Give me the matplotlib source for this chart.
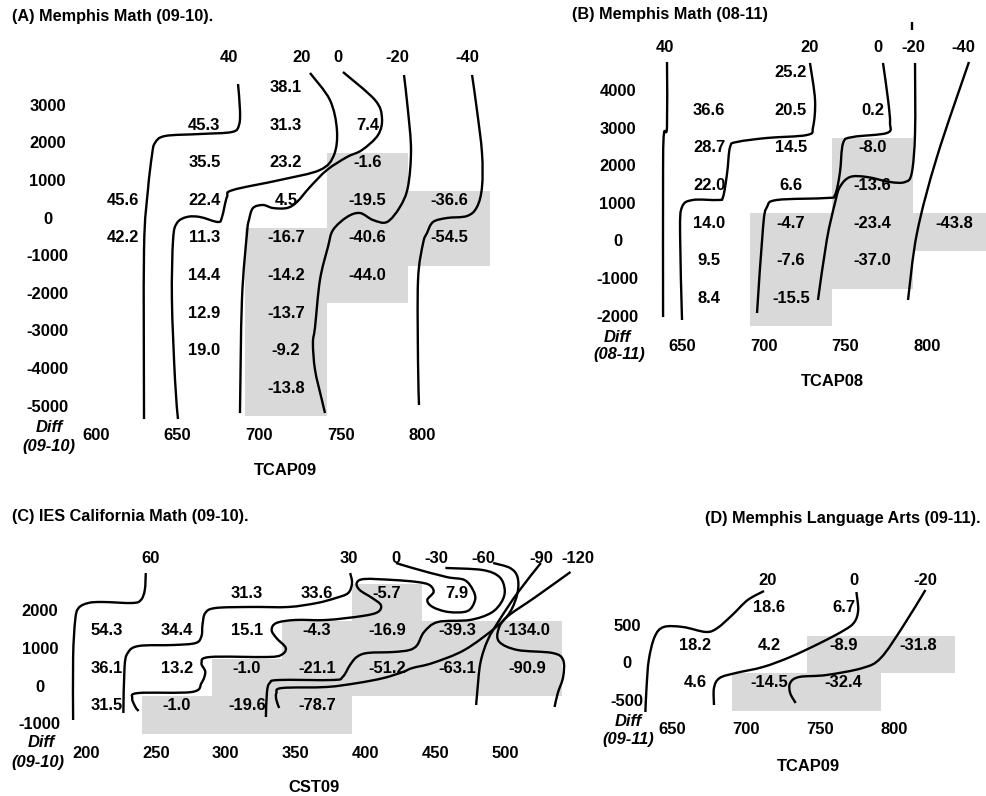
import numpy as np
import matplotlib
matplotlib.use("Agg")
import matplotlib.pyplot as plt
from matplotlib.path import Path
from matplotlib.patches import PathPatch, Rectangle

W, H = 986, 796
FONT = "Liberation Sans"
FS = 11.9
FS_TITLE = 11.7
GRAY = "#d9d9d9"
LW = 1.7
nan = np.nan

# ---------------- Panel A : Memphis Math (09-10) ----------------
A_cols = [625, 675, 725, 775, 825]
A_rows = [3500, 2500, 1500, 500, -500, -1500, -2500, -3500, -4500]
A_vals = [
    [nan, nan, 38.1, nan, nan],
    [nan, 45.3, 31.3, 7.4, nan],
    [nan, 35.5, 23.2, -1.6, nan],
    [45.6, 22.4, 4.5, -19.5, -36.6],
    [42.2, 11.3, -16.7, -40.6, -54.5],
    [nan, 14.4, -14.2, -44.0, nan],
    [nan, 12.9, -13.7, nan, nan],
    [nan, 19.0, -9.2, nan, nan],
    [nan, nan, -13.8, nan, nan],
]
A_yticks = [3000, 2000, 1000, 0, -1000, -2000, -3000, -4000, -5000]
A_xticks = [600, 650, 700, 750, 800]
A_levels = ["40", "20", "0", "-20", "-40"]
A_level_x = [690, 734.8, 756.9, 793, 835.9]
A_curve_40 = [(695.6, 3835), (696.8, 3144), (696.2, 2744), (691.9, 2559), (672.3, 2505),
              (650.9, 2452), (644.7, 2266), (642.9, 1947), (640.4, 1016), (638, -580), (638, -5076)]
A_curve_20 = [(739.7, 4128), (751.9, 3410), (756.2, 2612), (754.4, 1947), (745.8, 1548),
              (721.3, 1282), (692.5, 1016), (688.8, 830), (685.8, 298), (683.3, 165),
              (672.3, 298), (664.3, 298), (658.2, 138), (655.8, -314), (655.1, -1910),
              (657, -4038), (658.8, -5076)]
A_curve_0 = [(759.9, 4155), (779.5, 3410), (783.8, 2931), (781.4, 2479), (771.6, 2080),
             (762.4, 1894), (750.1, 1548), (739.7, 1096), (731.7, 697), (725.6, 537),
             (717, 537), (710.9, 617), (704.8, 537), (702.3, 218), (701.1, -128),
             (698, -1910), (696.8, -4916)]
A_curve_m20 = [(797.3, 4075), (799.7, 3144), (801.6, 2080), (799.7, 1096), (794.8, 564),
               (786.9, 165), (778.3, 218), (770.3, 404), (762.4, 298), (753.8, -48),
               (750.7, -500), (745.8, -1378), (742.8, -2628), (741.5, -3054),
               (742.8, -3772), (747, -4570), (748.9, -4916)]
A_curve_m40 = [(839, 4075), (842, 3144), (845.1, 2000), (845.1, 1096), (842, 564),
               (835.9, 324), (823.6, 271), (815.1, 165), (811.4, -128), (809, -400),
               (805.9, -1378), (805.9, -3586), (806.5, -4703)]

# ---------------- Panel B : Memphis Math (08-11) ----------------
B_cols = [675, 725, 775, 825]
B_rows = [4500, 3500, 2500, 1500, 500, -500, -1500]
B_vals = [
    [nan, 25.2, nan, nan],
    [36.6, 20.5, 0.2, nan],
    [28.7, 14.5, -8.0, nan],
    [22.0, 6.6, -13.6, nan],
    [14.0, -4.7, -23.4, -43.8],
    [9.5, -7.6, -37.0, nan],
    [8.4, -15.5, nan, nan],
]
B_yticks = [4000, 3000, 2000, 1000, 0, -1000, -2000]
B_xticks = [650, 700, 750, 800]
B_levels = ["40", "20", "0", "-20", "-40"]
B_level_x = [648, 736.7, 778.3, 799.8, 830.4]
B_curve_40 = [(649.2, 5027), (649.2, 3298), (647.4, 3139), (646.8, 2234), (646.8, -1756)]
B_curve_20 = [(736.7, 5001), (739.8, 4017), (738.6, 3298), (734.9, 3086), (710.4, 3006),
              (692, 2899), (687.8, 2766), (686, 2075), (683.5, 1436), (680.4, 1357),
              (665, 1357), (658.4, 1170), (657.2, 479), (658.4, -1835)]
B_curve_0 = [(781.4, 5001), (784.5, 4017), (785.7, 3405), (783.8, 3139), (763, 3032),
             (757, 2873), (755, 2075), (752, 1490), (747, 1410), (716.5, 1357),
             (710.4, 1170), (708, 638), (704.3, -1649)]
B_curve_m20 = [(801, 5001), (801, 3139), (799, 2075), (794.9, 1835), (785.7, 1835),
               (771.6, 1968), (761.2, 1968), (755, 1702), (752, 1277), (747, 293),
               (741.6, -1303)]
B_curve_m40 = [(834, 5027), (814.4, 2500), (802.2, 479), (796.7, -1303)]
B_stub = [(799, 6091), (799, 5879)]

# ---------------- Panel C : IES California Math (09-10) ----------------
C_cols = [225, 275, 325, 375, 425, 475, 525]
C_rows = [2500, 1500, 500, -500]
C_vals = [
    [nan, nan, 31.3, 33.6, -5.7, 7.9, nan],
    [54.3, 34.4, 15.1, -4.3, -16.9, -39.3, -134.0],
    [36.1, 13.2, -1.0, -21.1, -51.2, -63.1, -90.9],
    [31.5, -1.0, -19.6, -78.7, nan, nan, nan],
]
C_yticks = [2000, 1000, 0, -1000]
C_xticks = [200, 250, 300, 350, 400, 450, 500]
C_levels = ["60", "30", "0", "-30", "-60", "-90", "-120"]
C_level_x = [256, 398, 431.5, 459.9, 493.9, 534.9, 561]
C_curve_60 = [(252.7, 3280), (252, 2827), (249.2, 2560), (243, 2480), (221.9, 2507),
              (211.7, 2480), (204.7, 2347), (202.3, 2027), (200.8, 1040), (200.8, -640)]
C_curve_30 = [(398.7, 3280), (400, 3014), (397.3, 2747), (388.5, 2614), (375, 2480),
              (354.7, 2374), (328, 2374), (302.7, 2347), (295.2, 2214), (293.2, 1894),
              (292.5, 1600), (288.4, 1414), (272.6, 1360), (247.7, 1334), (239.8, 1147),
              (237.5, 747), (236.7, -453)]
C_curve_0 = [(431.5, 3547), (443.2, 3414), (467.4, 3174), (480.3, 3094), (486.4, 2827),
             (487.9, 2560), (482.6, 2267), (469, 2240), (457.6, 2374), (453.8, 2560),
             (458.3, 2774), (455.3, 2960), (446.6, 3040), (429.5, 3094), (408.9, 3120),
             (403.4, 3014), (405.5, 2827), (414.4, 2614), (420.6, 2427), (418.5, 2240),
             (407.5, 2134), (381.8, 2027), (359.5, 2027), (346, 1947), (342.6, 1760),
             (346, 1547), (352.7, 1280), (349.3, 1093), (339.2, 1040), (298.6, 1040),
             (292.5, 880), (295.2, 640), (292.5, 347), (285.6, 107), (247.6, 80),
             (243, -53), (245.3, -293), (247.6, -400)]
C_curve_m30 = [(466.7, 3414), (493.2, 3360), (505.3, 3174), (509.1, 2827), (506.8, 2507),
               (499.2, 2214), (484.1, 2027), (461.4, 1974), (451.5, 1707), (446.6, 1360),
               (441.1, 1227), (429.5, 1173), (411, 1147), (403.4, 1040), (398.6, 827),
               (393.3, 507), (386.5, 427), (348, 427), (341.2, 347), (339.2, 80),
               (338.5, -560)]
C_curve_m60 = [(500.8, 3547), (512.9, 3414), (518.2, 3174), (518.2, 2747), (512.9, 2240),
               (503, 1840), (480.3, 1227), (457.6, 880), (443.2, 747), (436.3, 640),
               (422.6, 480), (404.1, 347), (381.8, 240), (350, 213), (346, 80),
               (346, -107), (348, -320)]
C_curve_m90 = [(534.9, 3547), (518.2, 2747), (505.3, 2027), (497, 1494), (491.7, 880),
               (489.4, 80), (488.7, -240)]
C_curve_m120 = [(556.1, 3307), (531.1, 2640), (510.6, 2107), (504.5, 1760), (505.3, 1440),
                (518.2, 1227), (543.2, 1147), (550.8, 960), (550.8, 507), (547, 80),
                (544.7, -293)]

# ---------------- Panel D : Memphis Language Arts (09-11) ----------------
D_cols = [675, 725, 775, 825]
D_rows = [750, 250, -250]
D_vals = [
    [nan, 18.6, 6.7, nan],
    [18.2, 4.2, -8.9, -31.8],
    [4.6, -14.5, -32.4, nan],
]
D_yticks = [500, 0, -500]
D_xticks = [650, 700, 750, 800]
D_levels = ["20", "0", "-20"]
D_level_x = [723.8, 781.7, 830.1]
D_curve_20 = [(721.4, 1093), (710.4, 973), (700, 773), (690, 600), (682.3, 547),
              (666.9, 613), (653.8, 613), (647.7, 480), (643.8, 173), (642.3, -187),
              (641.5, -520)]
D_curve_0 = [(783.6, 1080), (784.8, 840), (782.3, 680), (775.6, 573), (759.2, 400),
             (739, 213), (720.7, 80), (702.4, 0), (691.5, -67), (687.7, -200),
             (687.7, -427)]
D_curve_m20 = [(830.1, 1107), (814.7, 613), (800, 200), (787.8, 67), (763.4, -27),
               (745.1, -53), (739, -133), (739, -267), (742.7, -400)]


# ---------------- helpers ----------------
fig = plt.figure(figsize=(W / 100, H / 100), dpi=100)
fig.patch.set_facecolor("white")


def make_axes(box, x0, px0, sx, y0, py0, sy):
    L, R, T, B = box
    ax = fig.add_axes([L / W, 1 - B / H, (R - L) / W, (B - T) / H])
    ax.set_xlim(x0 + (L - px0) / sx, x0 + (R - px0) / sx)
    ax.set_ylim(y0 - (B - py0) / sy, y0 + (py0 - T) / sy)
    ax.set_axis_off()
    return ax


def txt(ax, x, y, s, **kw):
    kw.setdefault("ha", "center")
    kw.setdefault("va", "center")
    kw.setdefault("fontsize", FS)
    kw.setdefault("fontweight", "bold")
    ax.text(x, y, s, family=FONT, clip_on=False, **kw)


def smooth(ax, pts):
    P = np.asarray(pts, float)
    P = np.vstack([P[:1], P, P[-1:]])
    verts = [P[1]]
    codes = [Path.MOVETO]
    for i in range(1, len(P) - 2):
        p0, p1, p2, p3 = P[i - 1], P[i], P[i + 1], P[i + 2]
        verts += [p1 + (p2 - p0) / 6, p2 - (p3 - p1) / 6, p2]
        codes += [Path.CURVE4] * 3
    ax.add_patch(PathPatch(Path(verts, codes), fill=False, lw=LW, ec="black",
                           clip_on=False, capstyle="butt", joinstyle="round"))


def grid(ax, cols, rows, vals, cw, rh):
    off = 0.24 * rh
    for r, yc in enumerate(rows):
        for c, xc in enumerate(cols):
            v = vals[r][c]
            if np.isnan(v):
                continue
            if v < 0:
                ax.add_patch(Rectangle((xc - cw / 2, yc - rh / 2), cw, rh,
                                       fc=GRAY, ec="none", zorder=0))
            txt(ax, xc, yc + off, f"{v:.1f}", zorder=3)


def ticks(ax, yticks, ytx, xticks, xty, rh):
    off = 0.24 * rh
    for t in yticks:
        txt(ax, ytx, t + off, f"{t}")
    for t in xticks:
        txt(ax, t, xty, f"{t}", ha="left")


def levels(ax, labels, xs, y):
    for s, x in zip(labels, xs):
        txt(ax, x, y, s)


# ---------------- Panel A ----------------
axA = make_axes((0, 493, 30, 490), 600, 82, 81.6 / 50, 2000, 153, 37.6 / 1000)
grid(axA, A_cols, A_rows, A_vals, 50, 1000)
ticks(axA, A_yticks, 579, A_xticks, -5501, 1000)
txt(axA, 580, -5288, "Diff", style="italic")
txt(axA, 580, -5794, "(09-10)", style="italic")
txt(axA, 724.4, -6432, "TCAP09")
levels(axA, A_levels, A_level_x, 4527)
for cv in [A_curve_40, A_curve_20, A_curve_0, A_curve_m20, A_curve_m40]:
    smooth(axA, cv)

# ---------------- Panel B ----------------
axB = make_axes((493, 986, 10, 400), 700, 750, 81.7 / 50, 0, 251, 37.6 / 1000)
grid(axB, B_cols, B_rows, B_vals, 50, 1000)
ticks(axB, B_yticks, 619, B_xticks, -2527, 1000)
txt(axB, 619, -2288, "Diff", style="italic")
txt(axB, 620, -2740, "(08-11)", style="italic")
txt(axB, 750.2, -3458, "TCAP08")
levels(axB, B_levels, B_level_x, 5400)
for cv in [B_curve_40, B_curve_20, B_curve_0, B_curve_m20, B_curve_m40]:
    smooth(axB, cv)
bx, by = zip(*B_stub)
axB.plot(bx, by, color="black", lw=LW, clip_on=False, solid_capstyle="butt")

# ---------------- Panel C ----------------
axC = make_axes((0, 600, 530, 796), 200, 72, 70 / 50, 0, 696, 37.5 / 1000)
grid(axC, C_cols, C_rows, C_vals, 50, 1000)
ticks(axC, C_yticks, 177, C_xticks, -1520, 1000)
txt(axC, 178, -1227, "Diff", style="italic")
txt(axC, 176, -1760, "(09-10)", style="italic")
txt(axC, 373, -2427, "CST09")
levels(axC, C_levels, C_level_x, 3654)
for cv in [C_curve_60, C_curve_30, C_curve_0, C_curve_m30, C_curve_m60,
           C_curve_m90, C_curve_m120]:
    smooth(axC, cv)

# ---------------- Panel D ----------------
axD = make_axes((600, 986, 530, 796), 650, 658, 74.25 / 50, 0, 673, 37.5 / 500)
grid(axD, D_cols, D_rows, D_vals, 50, 500)
ticks(axD, D_yticks, 629, D_xticks, -760, 500)
txt(axD, 630, -653, "Diff", style="italic")
txt(axD, 630, -893, "(09-11)", style="italic")
txt(axD, 751.2, -1253, "TCAP09")
levels(axD, D_levels, D_level_x, 1227)
for cv in [D_curve_20, D_curve_0, D_curve_m20]:
    smooth(axD, cv)

# ---------------- titles ----------------
for s, px, py in [("(A) Memphis Math (09-10).", 12, 17),
                  ("(B) Memphis Math (08-11)", 572, 15),
                  ("(C) IES California Math (09-10).", 12, 517),
                  ("(D) Memphis Language Arts (09-11).", 705, 518)]:
    fig.text(px / W, 1 - py / H, s, ha="left", va="center", fontsize=FS_TITLE,
             fontweight="bold", family=FONT)

fig.savefig("out.png", dpi=100, facecolor="white")
